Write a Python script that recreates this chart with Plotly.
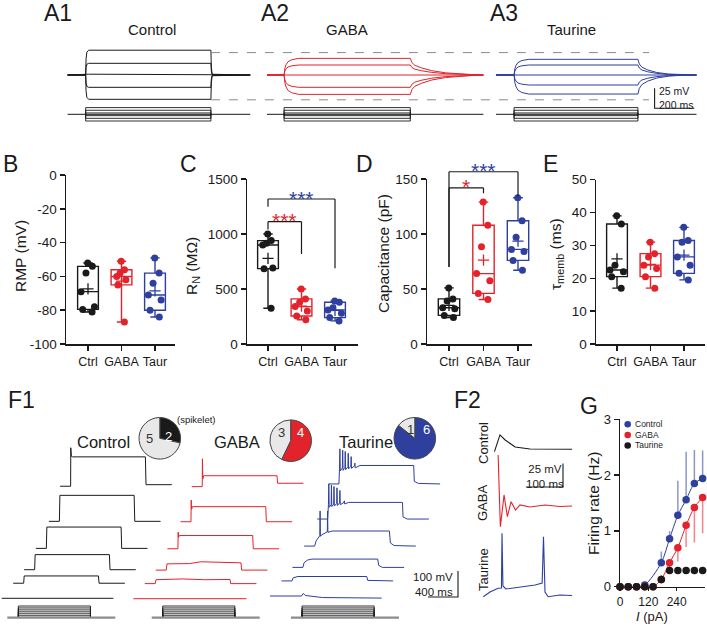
import numpy as np
import plotly.graph_objects as go

W, H = 707, 626
FONT = "Liberation Sans, Arial, Helvetica, sans-serif"
BLACK = "#1a1a1a"
RED = "#e3232b"
BLUE = "#2e3f9e"
PIE_GREY = "#e8e8e8"

# ======================= DATA =======================
GROUPS = ["Ctrl", "GABA", "Taur"]

RMP_CTRL = [-52, -54, -58, -69, -78, -79.5, -81]
RMP_GABA = [-51, -56, -58, -60, -62, -65, -87]
RMP_TAUR = [-49, -58, -64, -71, -74, -80, -84]

RN_CTRL = [1000, 940, 915, 900, 690, 685, 325]
RN_GABA = [500, 410, 380, 340, 300, 255, 220]
RN_TAUR = [390, 380, 330, 310, 280, 240, 210]

CAP_CTRL = [51, 41, 39, 33, 32, 26, 24]
CAP_GABA = [129, 108, 88.5, 64, 57.5, 46, 40.5]
CAP_TAUR = [133, 112, 97, 86, 84, 76, 67]

TAU_CTRL = [39, 36.5, 24, 22.5, 22, 20.5, 17]
TAU_GABA = [31, 27.5, 26.5, 24, 23, 20.5, 17]
TAU_TAUR = [35.5, 31.5, 31, 26.5, 24, 21.5, 19.5]

# significance brackets: (group a, group b, top, left end, right end, label)
RN_BRACKETS = [(0, 2, 1318, 1248, 688, "***"), (0, 1, 1112, 1042, 818, "***")]
CAP_BRACKETS = [(0, 2, 156.6, 70, 134, "***"), (0, 1, 142, 70, 137, "*")]

# G: firing rate vs injected current
CURRENT_PA = [0, 35, 70, 105, 140, 175, 210, 245, 280, 315, 350]
RATE_CTRL = [0, 0, 0, 0.03, None, 0.43, 0.86, 1.28, 1.56, 1.85, 1.94]
RATE_CTRL_SEM = [0, 0, 0, 0, 0, 0.2, 0.14, 0.62, 0.86, 0.6, 0.5]
RATE_GABA = [0, 0, 0, 0, 0, 0.13, 0.43, 0.70, 1.10, 1.42, 1.60]
RATE_GABA_SEM = [0, 0, 0, 0, 0, 0, 0.12, 0.25, 0.39, 0.63, 0.64]
RATE_TAUR = [0, 0, 0, 0, 0, 0.13, 0.29, 0.29, 0.29, 0.29, 0.29]
RATE_TAUR_SEM = [0, 0, 0, 0, 0, 0.07, 0.06, 0.06, 0.06, 0.06, 0.06]

# F1 pies (cells firing, cells not firing)
PIE_CTRL = [2, 5]
PIE_GABA = [4, 3]
PIE_TAUR = [6, 1]

# A: voltage responses (time ms, fraction of steady-state), steady-state levels (mV re. rest)
A_CTRL_T = [0, 91, 93, 97, 106, 722, 724, 728, 920]
A_CTRL_F = [0, 0, 0.65, 0.92, 1, 1, 0.35, 0.03, 0]
A_CTRL_MV = [31, 14.6, 1, -15.4, -30.4]
A_GABA_T = [0, 86, 90, 96, 106, 125, 160, 722, 730, 745, 780, 830, 900, 980, 1050, 1090]
A_GABA_F = [0, 0, 0.4, 0.62, 0.8, 0.92, 1, 1, 0.75, 0.58, 0.42, 0.26, 0.13, 0.05, 0.01, 0]
A_GABA_MV = [20.8, 12.5, 0.5, -15.4, -24.2]
A_TAUR_T = [0, 91, 95, 101, 111, 130, 165, 715, 722, 735, 765, 810, 870, 940, 1010]
A_TAUR_F = [0, 0, 0.4, 0.62, 0.8, 0.92, 1, 1, 0.7, 0.5, 0.32, 0.16, 0.06, 0.01, 0]
A_TAUR_MV = [19.6, 12.5, 0.5, -12.5, -23.8]
A_STIM_PA = [50, 30, 10, -10, -30, -50]
A_PULSE_CTRL = [91, 722, 920]   # onset, offset, end (ms)
A_PULSE_GABA = [86, 722, 1090]
A_PULSE_TAUR = [91, 715, 1010]
A_DASH_MV = [28, -31]

# F1: current-clamp traces (time ms, mV re. rest), top trace first
F1_CTRL = [
    ([0, 140, 142, 150, 165, 1137, 1145, 1489], [0, 0, 148, 115, 113, 113, 6, 6]),
    ([0, 140, 147, 1137, 1145, 1489], [0, 0, 100, 100, 0, 0]),
    ([0, 140, 147, 1137, 1145, 1489], [0, 0, 82, 82, 0, 0]),
    ([0, 140, 147, 1137, 1145, 1489], [0, 0, 58, 58, 0, 0]),
    ([0, 140, 147, 1137, 1145, 1489], [0, 0, 28, 28, 0, 0]),
    ([0, 1489], [0, 0]),
]
F1_GABA = [
    ([0, 140, 143, 148, 160, 1137, 1145, 1489], [0, 0, 107, 30, 42, 42, 13, 13]),
    ([0, 140, 143, 148, 160, 1137, 1145, 1489], [0, 0, 83, 48, 58, 58, 0, 0]),
    ([0, 140, 143, 148, 160, 1137, 1145, 1489], [0, 0, 64, 44, 51, 51, 0, 0]),
    ([0, 140, 150, 450, 600, 900, 1137, 1145, 1489], [0, 0, 24, 25, 32, 29, 28, 0, 0]),
    ([0, 140, 150, 500, 800, 1137, 1145, 1489], [0, 0, 15, 18, 15, 16, 0, 0]),
    ([0, 1510], [0, 0]),
]
F1_TAUR = [
    ([0, 140, 148, 153, 158, 186, 190, 195, 220, 224, 229, 260, 264, 269, 299, 303, 308, 348, 352, 357,
      420, 1137, 1145, 1200, 1489],
     [0, 0, 60, 135, 50, 62, 130, 52, 64, 125, 55, 66, 118, 58, 68, 105, 60, 70, 80, 62,
      71, 71, 10, 2, 0]),
    ([0, 140, 150, 155, 160, 186, 190, 195, 220, 224, 229, 260, 264, 269, 299, 303, 308, 358, 362, 367,
      420, 1137, 1145, 1200, 1489],
     [0, 0, 55, 135, 45, 55, 130, 48, 57, 125, 50, 60, 120, 52, 62, 110, 55, 64, 70, 58,
      64, 64, 8, 0, 0]),
    ([0, 140, 160, 190, 209, 213, 217, 240, 290, 309, 313, 317, 380, 1137, 1150, 1200, 1489],
     [0, 0, 20, 34, 40, 135, 38, 44, 52, 55, 135, 53, 58, 58, 12, 2, 0]),
    ([0, 140, 155, 200, 260, 1137, 1150, 1200, 1489], [0, 0, 18, 28, 32, 32, 8, 0, 0]),
    ([0, 140, 155, 220, 1137, 1150, 1489], [0, 0, 12, 17, 17, 2, 0]),
    ([0, 420, 444, 470, 700, 1489], [0, 0, 10, 2, -6, -8]),
]
F1_STIM_PA = [20, 40, 60, 80, 100, 120]
F1_PULSE = [147, 1109, 1440]

# F2: first-spike traces (ms, mV re. rest)
F2_CTRL_T = [39, 54, 68, 95, 135, 249]
F2_CTRL_MV = [-2.6, 15.3, 9.9, 2.5, 0.3, 0]
F2_GABA_T = [49, 55, 65, 74, 84, 96, 108, 135, 176, 216, 249]
F2_GABA_MV = [54.5, -22.1, 11.8, -11.4, 4.6, -4.3, 1.1, -1.1, 1.1, -0.5, 0]
F2_TAUR_T = [9, 27, 49, 58, 59.5, 62, 70, 108, 149, 168, 171.6, 175.7, 184, 216, 249]
F2_TAUR_MV = [-1.8, 3.2, 7.2, 7.5, 65.9, 9.6, 6.4, 8.5, 10.7, 12.8, 62.3, 3.2, -1.8, 0, -0.5]

# ======================= LAYOUT HELPERS =======================
LAYOUT = dict(width=W, height=H, margin=dict(l=0, r=0, t=0, b=0, pad=0, autoexpand=False), autosize=False,
              paper_bgcolor="white", plot_bgcolor="rgba(0,0,0,0)", showlegend=False,
              font=dict(family=FONT, color=BLACK))
TRACES, SHAPES, ANNOTS, AX_LIST = [], [], [], []


def new_axes(px_l, px_r, py_t, py_b, xr, yr, xopts=None, yopts=None):
    idx = len(AX_LIST) + 1
    s = "" if idx == 1 else str(idx)
    xid, yid = "x" + s, "y" + s
    hidden = dict(visible=False, fixedrange=True, showgrid=False, zeroline=False)
    xa = dict(hidden if xopts is None else xopts)
    xa.update(domain=[px_l / W, px_r / W], range=list(xr), anchor=yid, automargin=False)
    ya = dict(hidden if yopts is None else yopts)
    ya.update(domain=[1 - py_b / H, 1 - py_t / H], range=list(yr), anchor=xid, automargin=False)
    LAYOUT["xaxis" + s] = xa
    LAYOUT["yaxis" + s] = ya
    ax = dict(x=xid, y=yid, px_l=px_l, px_r=px_r, py_t=py_t, py_b=py_b, xr=list(xr), yr=list(yr))
    AX_LIST.append(ax)
    return ax


def d2px(ax, xv, yv):
    px = ax["px_l"] + (xv - ax["xr"][0]) / (ax["xr"][1] - ax["xr"][0]) * (ax["px_r"] - ax["px_l"])
    py = ax["py_b"] - (yv - ax["yr"][0]) / (ax["yr"][1] - ax["yr"][0]) * (ax["py_b"] - ax["py_t"])
    return px, py


def px2d(ax, px, py):
    xv = ax["xr"][0] + (px - ax["px_l"]) / (ax["px_r"] - ax["px_l"]) * (ax["xr"][1] - ax["xr"][0])
    yv = ax["yr"][0] + (ax["py_b"] - py) / (ax["py_b"] - ax["py_t"]) * (ax["yr"][1] - ax["yr"][0])
    return xv, yv


def trace_panel(px_l, px_r, py_t, py_b, ox, oy, sx, sy):
    xr = [(px_l - ox) / sx, (px_r - ox) / sx]
    yr = [(oy - py_b) / sy, (oy - py_t) / sy]
    return new_axes(px_l, px_r, py_t, py_b, xr, yr)


def add_line(ax, x, y, color, width=1.1, dash=None):
    TRACES.append(go.Scatter(x=list(x), y=list(y), mode="lines",
                             line=dict(color=color, width=width, dash=dash),
                             xaxis=ax["x"], yaxis=ax["y"], hoverinfo="skip", showlegend=False))


def text(px, py, s, size, color=BLACK, angle=0, xanchor="center", yanchor="middle", align="center"):
    ANNOTS.append(dict(x=px / W, y=1 - py / H, xref="paper", yref="paper", text=s, showarrow=False,
                       font=dict(size=size, color=color, family=FONT), textangle=angle,
                       xanchor=xanchor, yanchor=yanchor, align=align))


def pline(px0, py0, px1, py1, color=BLACK, width=1.2, dash=None):
    SHAPES.append(dict(type="line", xref="paper", yref="paper", x0=px0 / W, y0=1 - py0 / H,
                       x1=px1 / W, y1=1 - py1 / H, line=dict(color=color, width=width, dash=dash)))


def axis_style(tickvals, ticktext, size, ticklen=5):
    return dict(visible=True, showline=True, linecolor=BLACK, linewidth=1.5, ticks="outside", ticklen=ticklen,
                tickwidth=1.5, tickcolor=BLACK, tickvals=tickvals, ticktext=ticktext,
                tickfont=dict(family=FONT, size=size, color=BLACK), showgrid=False, zeroline=False,
                fixedrange=True)


# ======================= A PANELS =======================
SX_A, SY_A, SY_A_STIM = 39.7 / 200.0, 20.0 / 25.0, 0.134
a_specs = [
    (A_CTRL_T, A_CTRL_F, A_CTRL_MV, A_PULSE_CTRL, BLACK, 67.6, 60, 262),
    (A_GABA_T, A_GABA_F, A_GABA_MV, A_PULSE_GABA, RED, 267.0, 260, 490),
    (A_TAUR_T, A_TAUR_F, A_TAUR_MV, A_PULSE_TAUR, BLUE, 496.0, 490, 702),
]
a_axes = []
for T, F, levels, pulse, col, ox, pl, pr in a_specs:
    ax = trace_panel(pl, pr, 40, 126, ox, 75, SX_A, SY_A)
    a_axes.append(ax)
    for lv in levels:
        add_line(ax, T, [lv * f for f in F], col, width=1.0)
    sax = trace_panel(pl, pr, 102, 126, ox, 114.3, SX_A, SY_A_STIM)
    on, off, end = pulse
    add_line(sax, [0, end], [0, 0], BLACK, width=1.0)
    for I in A_STIM_PA:
        add_line(sax, [on, on, off, off], [0, I, I, 0], BLACK, width=0.9)

# dashed reference lines across A
for mv in A_DASH_MV:
    x0, y0 = d2px(a_axes[0], A_PULSE_CTRL[1], mv)
    pline(x0, y0, 649, y0, color="#8a8a8a", width=1.0, dash="dash")

# A scale bar (25 mV, 200 ms)
t0, v0 = px2d(a_axes[2], 654.6, 108.3)
add_line(a_axes[2], [t0, t0, t0 + 200], [v0 + 25, v0, v0], BLACK, width=1.1)
text(657, 97.5, "25 mV<br>200 ms", 10.5, xanchor="left", align="left")

text(57.5, 13, "A1", 23)
text(274.6, 13, "A2", 23)
text(504, 13, "A3", 23)
text(152, 30, "Control", 15)
text(347, 30, "GABA", 15)
text(571.5, 30, "Taurine", 15)

# ======================= B-E BOX PANELS =======================


def box_panel(px_l, px_r, py_t, py_b, ctrl_px, step_px, yr, ytv, ytt, datasets):
    xr = [(px_l - ctrl_px) / step_px, (px_r - ctrl_px) / step_px]
    ax = new_axes(px_l, px_r, py_t, py_b, xr, yr,
                  xopts=axis_style([0, 1, 2], GROUPS, 12.5),
                  yopts=axis_style(ytv, ytt, 13.5))
    for i, (vals, c) in enumerate(zip(datasets, [BLACK, RED, BLUE])):
        v = np.array(vals, float)
        q1, med, q3 = np.percentile(v, [25, 50, 75], method="weibull")
        TRACES.append(go.Box(x=[i], q1=[q1], median=[med], q3=[q3], lowerfence=[v.min()],
                             upperfence=[v.max()], orientation="v", width=0.62, whiskerwidth=0.45,
                             line=dict(color=c, width=1.4), fillcolor="rgba(0,0,0,0)", boxpoints=False,
                             xaxis=ax["x"], yaxis=ax["y"], hoverinfo="skip", showlegend=False))
        TRACES.append(go.Box(x=[i] * len(v), y=v, boxpoints="all", jitter=0.8, pointpos=0,
                             marker=dict(color=c, size=7), line=dict(color="rgba(0,0,0,0)", width=0),
                             fillcolor="rgba(0,0,0,0)", width=0.62, xaxis=ax["x"], yaxis=ax["y"],
                             hoverinfo="skip", showlegend=False))
        TRACES.append(go.Scatter(x=[i], y=[v.mean()], mode="markers",
                                 marker=dict(symbol="cross-thin", size=8, line=dict(color=c, width=1.3)),
                                 xaxis=ax["x"], yaxis=ax["y"], hoverinfo="skip", showlegend=False))
    return ax


axB = box_panel(66, 175, 175.2, 344, 88, 33.5, [-100, 0], [0, -20, -40, -60, -80, -100],
                ["0", "-20", "-40", "-60", "-80", "-100"], [RMP_CTRL, RMP_GABA, RMP_TAUR])
axC = box_panel(247, 358, 179, 344, 268, 33.5, [0, 1500], [0, 500, 1000, 1500],
                ["0", "500", "1000", "1500"], [RN_CTRL, RN_GABA, RN_TAUR])
axD = box_panel(427, 532, 179, 344, 449, 34.5, [0, 150], [0, 50, 100, 150],
                ["0", "50", "100", "150"], [CAP_CTRL, CAP_GABA, CAP_TAUR])
axE = box_panel(596, 705, 179.7, 344, 617, 33.5, [0, 50], [0, 10, 20, 30, 40, 50],
                ["0", "10", "20", "30", "40", "50"], [TAU_CTRL, TAU_GABA, TAU_TAUR])


def brackets(ax, specs):
    for (a, b, top, lend, rend, lab), col in zip(specs, [BLUE, RED]):
        xa, yt = d2px(ax, a, top)
        xb, _ = d2px(ax, b, top)
        _, yl = d2px(ax, a, lend)
        _, yr_ = d2px(ax, b, rend)
        pline(xa, yl, xa, yt, width=1.2)
        pline(xa, yt, xb, yt, width=1.2)
        pline(xb, yt, xb, yr_, width=1.2)
        text((xa + xb) / 2, yt - 1, lab, 21, color=col)


brackets(axC, RN_BRACKETS)
brackets(axD, CAP_BRACKETS)

text(20, 256, "RMP (mV)", 15.5, angle=-90)
text(192, 266, "R<sub>N</sub> (MΩ)", 15.5, angle=-90)
text(383, 254, "Capacitance (pF)", 15.5, angle=-90)
text(556, 254, "τ<sub>memb</sub> (ms)", 15.5, angle=-90)
text(10, 164, "B", 23)
text(188, 164, "C", 23)
text(365, 164, "D", 23)
text(550, 164, "E", 23)

# ======================= F1 =======================
SX_F, SY_F, SY_F_STIM = 30 / 400.0, 26 / 100.0, 0.0975
F1_T_SHIFT_MS = [779, 629, 455, 299, 153, 0]
F1_V_SHIFT_MV = [431, 296, 192, 110, 58, 0]
f1_specs = [
    (F1_CTRL, BLACK, 0, 186, 1.7, 598.3, 7.3),
    (F1_GABA, RED, 125, 318, 133.3, 598.7, 151.7),
    (F1_TAUR, BLUE, 262, 463, 270.0, 596.0, 291.0),
]
f1_axes = []
for traces_set, col, pl, pr, ox, oy, sox in f1_specs:
    ax = trace_panel(pl, pr, 440, 606, ox, oy, SX_F, SY_F)
    f1_axes.append(ax)
    for (t, v), dt, dv in zip(traces_set, F1_T_SHIFT_MS, F1_V_SHIFT_MV):
        add_line(ax, [ti + dt for ti in t], [vi + dv for vi in v], col, width=1.0)
    sax = trace_panel(pl, pr, 598, 624, sox, 617.7, SX_F, SY_F_STIM)
    on, off, end = F1_PULSE
    for I in F1_STIM_PA:
        add_line(sax, [on, on, off, off], [0, I, I, 0], BLACK, width=0.9)
    add_line(sax, [0, end], [0, 0], "#8c8c8c", width=2.2)

# F1 scale bar (100 mV, 400 ms)
t0, v0 = px2d(f1_axes[2], 458, 597)
add_line(f1_axes[2], [t0 - 400, t0, t0], [v0, v0, v0 + 100], BLACK, width=1.1)
text(455, 584, "100 mV<br>400 ms", 11.5, xanchor="right", align="right")

# pies
for vals, col, cx, cy in [(PIE_CTRL, BLACK, 159.8, 438.3), (PIE_GABA, RED, 290.7, 440.7),
                          (PIE_TAUR, BLUE, 414.8, 438.3)]:
    r = 20.8
    TRACES.append(go.Pie(values=vals, labels=["firing", "non-firing"], sort=False, direction="clockwise",
                         rotation=0, textinfo="none", hoverinfo="skip", showlegend=False,
                         marker=dict(colors=[col, PIE_GREY], line=dict(color="#444444", width=1)),
                         domain=dict(x=[(cx - r) / W, (cx + r) / W], y=[1 - (cy + r) / H, 1 - (cy - r) / H])))
text(149, 438.5, str(PIE_CTRL[1]), 13, color="#333333")
text(168.5, 436, str(PIE_CTRL[0]), 13, color="white")
text(281.5, 432.5, str(PIE_GABA[1]), 13, color="#333333")
text(300, 432.5, str(PIE_GABA[0]), 13, color="white")
text(410.4, 429, str(PIE_TAUR[1]), 13, color="#333333")
text(426, 429, str(PIE_TAUR[0]), 13, color="white")
text(196.5, 419.5, "(spikelet)", 9.5)

text(103.6, 441.5, "Control", 16.5)
text(237, 441.5, "GABA", 16.5)
text(366, 441.5, "Taurine", 16.5)
text(21.7, 400, "F1", 23)

# ======================= F2 =======================
SX_F2, SY_F2 = 0.37, 0.936
F2_OFFSETS_MV = [155.7, 95.1, 0]
f2 = trace_panel(478, 581, 428, 602, 480, 595, SX_F2, SY_F2)
for (t, v), col, off in zip([(F2_CTRL_T, F2_CTRL_MV), (F2_GABA_T, F2_GABA_MV), (F2_TAUR_T, F2_TAUR_MV)],
                            [BLACK, RED, BLUE], F2_OFFSETS_MV):
    add_line(f2, t, [vi + off for vi in v], col, width=1.1)
t0, v0 = px2d(f2, 563, 487)
add_line(f2, [t0 - 100, t0, t0], [v0, v0, v0 + 25], BLACK, width=1.1)
text(545, 476, "25 mV<br>100 ms", 11.5)
text(483, 443, "Control", 13, angle=-90)
text(483, 503, "GABA", 13, angle=-90)
text(483, 570, "Taurine", 13, angle=-90)
text(467, 400, "F2", 23)

# ======================= G =======================
gax = new_axes(620, 705, 419.3, 586.7, [0, 360], [0, 3],
               xopts=axis_style([0, 120, 240], ["0", "120", "240"], 12, ticklen=3),
               yopts=axis_style([0, 1, 2, 3], ["0", "1", "2", "3"], 13))
for rate, sem, col, ecol, up, line in [
        (RATE_CTRL, RATE_CTRL_SEM, BLUE, "rgba(46,63,158,0.55)", True, True),
        (RATE_GABA, RATE_GABA_SEM, RED, "rgba(227,35,43,0.55)", False, True),
        (RATE_TAUR, RATE_TAUR_SEM, BLACK, "rgba(26,26,26,0.8)", None, False)]:
    if up is None:
        err = dict(type="data", array=sem, symmetric=True, width=0, thickness=1.3, color=ecol)
    elif up:
        err = dict(type="data", array=sem, arrayminus=[0] * len(sem), symmetric=False, width=0,
                   thickness=1.5, color=ecol)
    else:
        err = dict(type="data", array=[0] * len(sem), arrayminus=sem, symmetric=False, width=0,
                   thickness=1.5, color=ecol)
    TRACES.append(go.Scatter(x=CURRENT_PA, y=rate, mode="lines+markers" if line else "markers",
                             connectgaps=True, line=dict(color=col, width=1.0, shape="spline", smoothing=0.8),
                             marker=dict(color=col, size=7.5), error_y=err, cliponaxis=False,
                             xaxis=gax["x"], yaxis=gax["y"], hoverinfo="skip", showlegend=False))
text(593, 504, "Firing rate (Hz)", 15.5, angle=-90)
text(652, 616, "<i>I</i> (pA)", 13)
text(589, 406, "G", 23)
for py, col, lab in [(424.3, BLUE, "Control"), (435, RED, "GABA"), (445.5, BLACK, "Taurine")]:
    SHAPES.append(dict(type="circle", xref="paper", yref="paper", xsizemode="pixel", ysizemode="pixel",
                       xanchor=627.7 / W, yanchor=1 - py / H, x0=-3.3, x1=3.3, y0=-3.3, y1=3.3,
                       fillcolor=col, line=dict(width=0)))
    text(632.5, py, lab, 8.5, xanchor="left")

LAYOUT["shapes"] = SHAPES
LAYOUT["annotations"] = ANNOTS
fig = go.Figure(data=TRACES, layout=LAYOUT)
PAGE_FIX = ("var s=document.createElement('style');"
            "s.textContent='html,body{margin:0;padding:0;width:707px;height:626px;overflow:hidden;}';"
            "document.head.appendChild(s);")
fig.write_html("out.html", config={"displayModeBar": False, "staticPlot": True}, post_script=PAGE_FIX)
